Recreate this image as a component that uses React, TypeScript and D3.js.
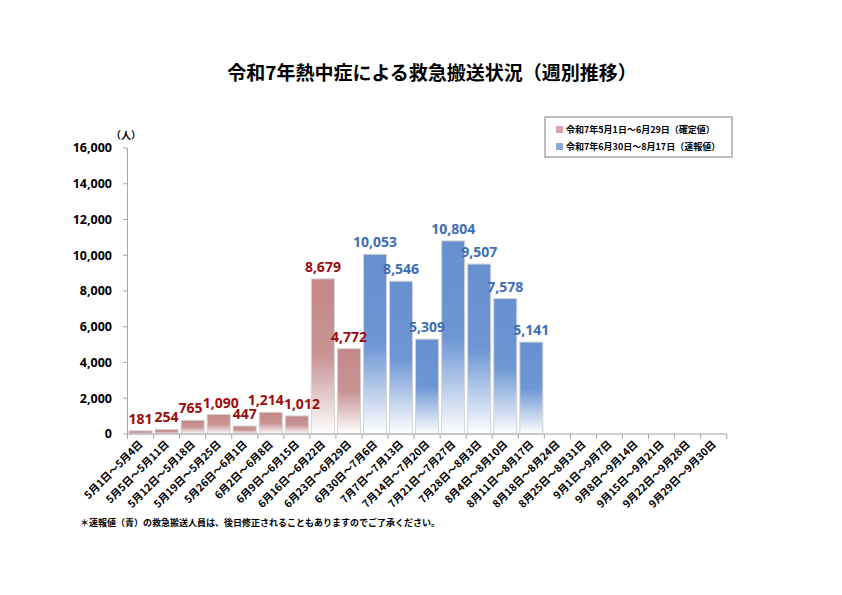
import React from "react";
import * as d3 from "d3";

const categories = [
  "5月1日～5月4日", "5月5日～5月11日", "5月12日～5月18日", "5月19日～5月25日",
  "5月26日～6月1日", "6月2日～6月8日", "6月9日～6月15日", "6月16日～6月22日",
  "6月23日～6月29日", "6月30日～7月6日", "7月7日～7月13日", "7月14日～7月20日",
  "7月21日～7月27日", "7月28日～8月3日", "8月4日～8月10日", "8月11日～8月17日",
  "8月18日～8月24日", "8月25日～8月31日", "9月1日～9月7日", "9月8日～9月14日",
  "9月15日～9月21日", "9月22日～9月28日", "9月29日～9月30日",
];
const confirmedValues = [181, 254, 765, 1090, 447, 1214, 1012, 8679, 4772];
const preliminaryValues = [10053, 8546, 5309, 10804, 9507, 7578, 5141];
const yTicks = [0, 2000, 4000, 6000, 8000, 10000, 12000, 14000, 16000];
const legendLabels = ["令和7年5月1日～6月29日（確定値）", "令和7年6月30日～8月17日（速報値）"];
const title = "令和7年熱中症による救急搬送状況（週別推移）";
const footnote = "＊速報値（青）の救急搬送人員は、後日修正されることもありますのでご了承ください。";

const JP = "'Noto Sans CJK JP', 'Noto Sans', sans-serif";
const NUM = "'Noto Sans', 'Noto Sans CJK JP', sans-serif";
const LABEL_FS = 14;

function estWidth(s: string, fs: number) {
  let w = 0;
  for (const ch of s) w += ch === "," ? 0.26 : 0.572;
  return w * fs;
}

export default function App() {
  const x = d3.scaleBand<string>()
    .domain(categories)
    .range([127.5, 726.7])
    .paddingInner(0.115)
    .paddingOuter(0.0575);
  const y = d3.scaleLinear().domain([0, 16000]).range([434, 148]);
  const fmt = d3.format(",");

  const bars = [
    ...confirmedValues.map((v, i) => ({ cat: categories[i], v, kind: "red" })),
    ...preliminaryValues.map((v, i) => ({ cat: categories[confirmedValues.length + i], v, kind: "blue" })),
  ];
  const step = x.step();
  const r0 = x.range()[0];
  const boundaries = d3.range(categories.length + 1).map((i) => r0 + i * step);

  // data label positions with simple side-by-side collision nudging
  const labels = bars.map((b) => {
    const text = fmt(b.v);
    return {
      text,
      kind: b.kind,
      cx: (x(b.cat) as number) + x.bandwidth() / 2,
      base: y(b.v) - 7,
      w: estWidth(text, LABEL_FS),
    };
  });
  for (let i = 0; i < labels.length - 1; i++) {
    const a = labels[i], b = labels[i + 1];
    const capH = 0.72 * LABEL_FS;
    const vOverlap = Math.abs(a.base - b.base) < capH;
    const need = (a.w + b.w) / 2 + 0.5;
    const have = b.cx - a.cx;
    if (vOverlap && have < need) {
      const d = (need - have) / 2;
      a.cx -= d;
      b.cx += d;
    }
  }

  return (
    <div style={{ position: "absolute", left: 0, top: 0 }}>
      <svg width={842} height={595} style={{ display: "block", background: "#fff" }}>
        <defs>
          <linearGradient id="gRed" x1="0" y1="0" x2="0" y2="1">
            <stop offset="0%" stopColor="#c48888" />
            <stop offset="50%" stopColor="#c99494" />
            <stop offset="100%" stopColor="#ffffff" />
          </linearGradient>
          <linearGradient id="gBlue" x1="0" y1="0" x2="0" y2="1">
            <stop offset="0%" stopColor="#6690d0" />
            <stop offset="50%" stopColor="#6d96d4" />
            <stop offset="100%" stopColor="#ffffff" />
          </linearGradient>
        </defs>

        <text x={432} y={80} textAnchor="middle" fontFamily={JP} fontWeight="bold" fontSize={19} fill="#000">
          {title}
        </text>

        {/* legend */}
        <rect x={545} y={117} width={187} height={40} fill="#fff" stroke="#7f7f7f" strokeWidth={1} />
        <rect x={556} y={126} width={7} height={7} fill="#d3a7ad" />
        <rect x={556} y={143} width={7} height={7} fill="#8aaad8" />
        <text x={566} y={133} fontFamily={JP} fontWeight="bold" fontSize={9} fill="#000">{legendLabels[0]}</text>
        <text x={566} y={150} fontFamily={JP} fontWeight="bold" fontSize={9} fill="#000">{legendLabels[1]}</text>

        {/* bars */}
        {bars.map((b) => (
          <rect
            key={b.cat}
            x={x(b.cat)}
            y={y(b.v)}
            width={x.bandwidth()}
            height={y(0) - y(b.v)}
            fill={b.kind === "red" ? "url(#gRed)" : "url(#gBlue)"}
            stroke="#d4d4d4"
            strokeWidth={1}
          />
        ))}

        {/* axes */}
        <line x1={127.5} x2={127.5} y1={148} y2={434} stroke="#a6a6a6" strokeWidth={1} />
        {yTicks.map((t) => (
          <g key={t}>
            <line x1={123} x2={127.5} y1={y(t)} y2={y(t)} stroke="#a6a6a6" strokeWidth={1} />
            <text x={112} y={y(t)} dy="0.35em" textAnchor="end" fontFamily={NUM} fontWeight="bold" fontSize={12.5} fill="#000">
              {fmt(t)}
            </text>
          </g>
        ))}
        <text x={126} y={139} textAnchor="middle" fontFamily={JP} fontWeight="bold" fontSize={10} fill="#000">（人）</text>

        <line x1={127.5} x2={726.7} y1={434} y2={434} stroke="#a6a6a6" strokeWidth={1} />
        {boundaries.map((bx, i) => (
          <line key={i} x1={bx} x2={bx} y1={434} y2={439} stroke="#a6a6a6" strokeWidth={1} />
        ))}
        {categories.map((c) => {
          const cx = (x(c) as number) + x.bandwidth() / 2 + 3;
          const cy = 445;
          return (
            <text key={c} x={cx} y={cy} textAnchor="end" transform={`rotate(-45 ${cx} ${cy})`}
              fontFamily={JP} fontWeight="bold" fontSize={10.5} fill="#000">
              {c}
            </text>
          );
        })}

        {/* data labels */}
        {labels.map((l, i) => (
          <text key={"l" + i} x={l.cx} y={l.base}
            textAnchor="middle" fontFamily={NUM} fontWeight="bold" fontSize={LABEL_FS}
            fill={l.kind === "red" ? "#9c0c0c" : "#3d6eb5"}>
            {l.text}
          </text>
        ))}

        <text x={80} y={526} fontFamily={JP} fontWeight="bold" fontSize={9} fill="#000">{footnote}</text>
      </svg>
    </div>
  );
}
